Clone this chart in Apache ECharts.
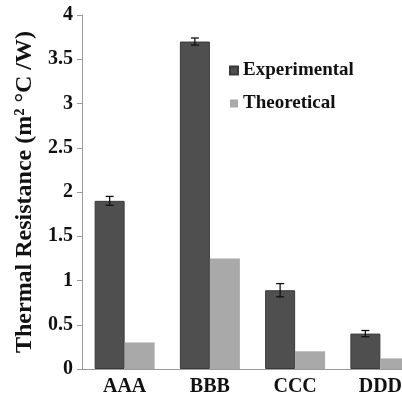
<!DOCTYPE html>
<html>
<head>
<meta charset="utf-8">
<script src="https://cdn.jsdelivr.net/npm/echarts@6/dist/echarts.min.js"></script>
<style>
  html, body { margin: 0; padding: 0; background: #fff; overflow: hidden; width: 402px; height: 397px; }
  /* chart is wider than the window so the last group gets cut off like in the original */
  #chart { width: 423px; height: 397px; }
</style>
</head>
<body>
<div id="chart"></div>
<script>
// data
const categories = ['AAA', 'BBB', 'CCC', 'DDD'];
const experimental = [1.9, 3.7, 0.89, 0.4];
const experimentalErr = [0.05, 0.04, 0.075, 0.035];
const theoretical = [0.3, 1.25, 0.2, 0.12];
const yTicks = [0, 0.5, 1, 1.5, 2, 2.5, 3, 3.5, 4];

const serif = '"Liberation Serif", "DejaVu Serif", serif';
const barW = 30;

const errData = experimental.map((v, i) => [i, v - experimentalErr[i], v + experimentalErr[i]]);

const chart = echarts.init(document.getElementById('chart'));
chart.setOption({
    animation: false,
    grid: { left: 82, right: 0, top: 15, bottom: 27 },
    legend: {
        orient: 'vertical',
        left: 224,
        top: 56,
        itemWidth: 8,
        itemHeight: 8,
        itemGap: 14,
        icon: 'rect',
        data: ['Experimental', 'Theoretical'],
        textStyle: { fontFamily: serif, fontWeight: 'bold', fontSize: 19, color: '#111' }
    },
    xAxis: {
        type: 'category',
        data: categories,
        axisLine: { lineStyle: { color: '#9a9a9a', width: 1 } },
        axisTick: { show: false },
        axisLabel: { fontFamily: serif, fontWeight: 'bold', fontSize: 20, color: '#111', margin: 8 }
    },
    yAxis: {
        type: 'value',
        min: yTicks[0],
        max: yTicks[yTicks.length - 1],
        interval: 0.5,
        name: 'Thermal Resistance (m² °C /W)',
        nameLocation: 'middle',
        nameGap: 35,
        nameTextStyle: { fontFamily: serif, fontWeight: 'bold', fontSize: 24, color: '#111' },
        splitLine: { show: false },
        axisLine: { show: true, lineStyle: { color: '#9a9a9a', width: 1 } },
        axisTick: { show: true, length: 5, lineStyle: { color: '#9a9a9a' } },
        axisLabel: { fontFamily: serif, fontWeight: 'bold', fontSize: 20, color: '#111', margin: 9 }
    },
    series: [
        {
            name: 'Experimental',
            type: 'bar',
            data: experimental,
            barWidth: barW,
            barGap: '0%',
            itemStyle: { color: '#4f4f4f', borderColor: '#3a3a3a', borderWidth: 1 }
        },
        {
            name: 'Theoretical',
            type: 'bar',
            data: theoretical,
            barWidth: barW,
            itemStyle: { color: '#a9a9a9' }
        },
        {
            type: 'custom',
            data: errData,
            z: 10,
            renderItem: (params, api) => {
                const lo = api.coord([api.value(0), api.value(1)]);
                const hi = api.coord([api.value(0), api.value(2)]);
                const x = lo[0] - barW / 2;
                const cap = 4;
                const style = { stroke: '#111', lineWidth: 1.3 };
                return {
                    type: 'group',
                    children: [
                        { type: 'line', shape: { x1: x, y1: lo[1], x2: x, y2: hi[1] }, style },
                        { type: 'line', shape: { x1: x - cap, y1: lo[1], x2: x + cap, y2: lo[1] }, style },
                        { type: 'line', shape: { x1: x - cap, y1: hi[1], x2: x + cap, y2: hi[1] }, style }
                    ]
                };
            }
        }
    ]
});
</script>
</body>
</html>
